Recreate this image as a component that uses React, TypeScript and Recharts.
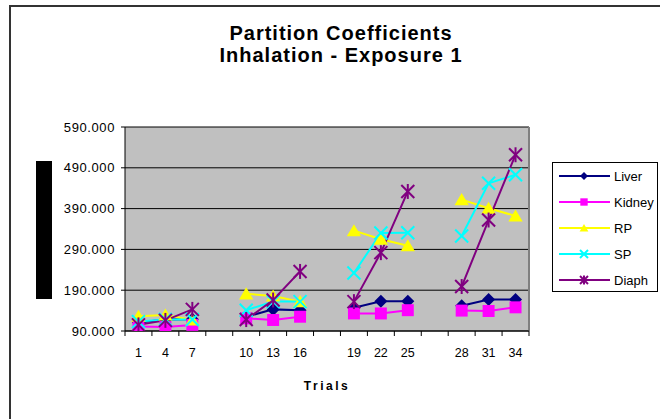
import { LineChart, Line, XAxis, YAxis, CartesianGrid } from "recharts";

const trials = ["1", "4", "7", "", "10", "13", "16", "", "19", "22", "25", "", "28", "31", "34"];
const liver = [111, 118, 119, null, 125, 143, 141, null, 147, 163, 163, null, 152, 167, 167];
const kidney = [101, 100, 105, null, 121, 117, 125, null, 133, 133, 141, null, 140, 139, 148];
const rp = [126, 129, 117, null, 181, 176, 162, null, 336, 315, 299, null, 412, 391, 372];
const sp = [113, 118, 118, null, 141, 162, 162, null, 232, 330, 331, null, 323, 452, 473];
const diaph = [105, 116, 143, null, 118, 166, 236, null, 162, 282, 432, null, 199, 362, 522];
const yTicks = [90, 190, 290, 390, 490, 590];

const FONT = "'Liberation Sans', Arial, sans-serif";
const PLOT_W = 404;
const BAND = PLOT_W / trials.length;

type Shape = "diamond" | "square" | "triangle" | "x" | "star";

const series: { key: string; name: string; color: string; shape: Shape; values: (number | null)[] }[] = [
  { key: "liver", name: "Liver", color: "#000080", shape: "diamond", values: liver },
  { key: "kidney", name: "Kidney", color: "#FF00FF", shape: "square", values: kidney },
  { key: "rp", name: "RP", color: "#FFFF00", shape: "triangle", values: rp },
  { key: "sp", name: "SP", color: "#00FFFF", shape: "x", values: sp },
  { key: "diaph", name: "Diaph", color: "#800080", shape: "star", values: diaph },
];

const data = trials.map((t, i) => {
  const row: any = { idx: i, trial: t };
  series.forEach(s => { row[s.key] = s.values[i]; });
  return row;
});

function marker(shape: Shape, color: string, cx: number, cy: number, r: number) {
  switch (shape) {
    case "diamond":
      return <polygon points={`${cx},${cy - r} ${cx + r},${cy} ${cx},${cy + r} ${cx - r},${cy}`} fill={color} />;
    case "square":
      return <rect x={cx - r * 0.92} y={cy - r * 0.92} width={1.84 * r} height={1.84 * r} fill={color} />;
    case "triangle":
      return <polygon points={`${cx},${cy - r} ${cx + r * 1.1},${cy + r * 0.85} ${cx - r * 1.1},${cy + r * 0.85}`} fill={color} />;
    case "x":
      return (
        <g stroke={color} strokeWidth={2}>
          <line x1={cx - r} y1={cy - r} x2={cx + r} y2={cy + r} />
          <line x1={cx - r} y1={cy + r} x2={cx + r} y2={cy - r} />
        </g>
      );
    default:
      return (
        <g stroke={color} strokeWidth={2}>
          <line x1={cx - r} y1={cy - r} x2={cx + r} y2={cy + r} />
          <line x1={cx - r} y1={cy + r} x2={cx + r} y2={cy - r} />
          <line x1={cx} y1={cy - r * 1.15} x2={cx} y2={cy + r * 1.15} />
        </g>
      );
  }
}

const dotFor = (shape: Shape, color: string) => (p: any) => {
  const { cx, cy, index, value } = p;
  if (cx == null || cy == null || value == null) return <g key={`d${index}`} />;
  return <g key={`d${index}`}>{marker(shape, color, cx, cy, 6.5)}</g>;
};

const XTick = (props: any) => {
  const { x, y, payload, index } = props;
  const axisY = y - 5;
  return (
    <g>
      <line x1={x - BAND / 2} x2={x - BAND / 2} y1={axisY} y2={axisY + 5} stroke="#000" />
      {index === trials.length - 1 && (
        <line x1={x + BAND / 2} x2={x + BAND / 2} y1={axisY} y2={axisY + 5} stroke="#000" />
      )}
      <text x={x} y={axisY + 26} textAnchor="middle" fontSize={12.5} fontFamily={FONT} fill="#000">
        {trials[payload.value]}
      </text>
    </g>
  );
};

const LegendBox = () => (
  <div style={{ position: "absolute", left: 552, top: 162, width: 104, height: 128, border: "1px solid #000", background: "#fff", fontFamily: FONT, fontSize: 13 }}>
    {series.map((s, i) => (
      <div key={s.key} style={{ position: "absolute", left: 6, top: 4 + i * 26, height: 18, display: "flex", alignItems: "center" }}>
        <svg width={54} height={18}>
          <line x1={0} x2={51} y1={9} y2={9} stroke={s.color} strokeWidth={2} />
          {marker(s.shape, s.color, 25, 9, 4)}
        </svg>
        <span style={{ marginLeft: 1, color: "#000" }}>{s.name}</span>
      </div>
    ))}
  </div>
);

export default function App() {
  return (
    <div style={{ position: "absolute", left: 0, top: 0, width: 660, height: 419, overflow: "hidden", background: "#fff" }}>
      <div style={{ position: "absolute", left: 9, top: 5, width: 700, height: 460, border: "2px solid #333", boxSizing: "border-box" }} />
      <div style={{ position: "absolute", left: 0, top: 22, width: 682, textAlign: "center", fontFamily: FONT, fontWeight: "bold", fontSize: 20, letterSpacing: 1, lineHeight: "22px", color: "#000" }}>
        <div>Partition Coefficients</div>
        <div>Inhalation - Exposure 1</div>
      </div>
      <div style={{ position: "absolute", left: 0, top: 0 }}>
        <LineChart width={660} height={419} data={data} margin={{ top: 127, right: 131, bottom: 58, left: 0 }}>
          <CartesianGrid horizontal={true} vertical={false} stroke="#000" fill="#C0C0C0" fillOpacity={1} />
          <CartesianGrid horizontal={false} vertical={true} stroke="#808080" strokeWidth={2}
            verticalCoordinatesGenerator={({ offset }: any) => [offset.left + offset.width]} />
          <XAxis dataKey="idx" type="category" padding={{ left: BAND / 2, right: BAND / 2 }} height={30}
            axisLine={{ stroke: "#000" }} tickLine={false}
            tickSize={5} tickMargin={0} tick={<XTick />} interval={0}
            label={{ value: "Trials", position: "insideBottom", offset: -29, fontFamily: FONT, fontWeight: "bold", fontSize: 12, letterSpacing: 2.5, fill: "#000" }} />
          <YAxis width={125} domain={[90, 590]} ticks={yTicks} type="number" allowDataOverflow interval={0}
            tickFormatter={(v: number) => v.toFixed(3)} axisLine={{ stroke: "#000" }} tickLine={{ stroke: "#000" }}
            tickSize={4} tickMargin={6} tick={{ fontFamily: FONT, fontSize: 13, fill: "#000", letterSpacing: 0.6 }}
            label={{
              content: ({ viewBox }: any) => (
                <rect x={viewBox.x + 36} y={viewBox.y + viewBox.height / 2 - 68} width={16} height={138} fill="#000" />
              ),
            }} />
          {series.map(s => (
            <Line key={s.key} dataKey={s.key} name={s.name} stroke={s.color} strokeWidth={2}
              dot={dotFor(s.shape, s.color)} activeDot={false} isAnimationActive={false} connectNulls={false} />
          ))}
        </LineChart>
      </div>
      <LegendBox />
    </div>
  );
}
